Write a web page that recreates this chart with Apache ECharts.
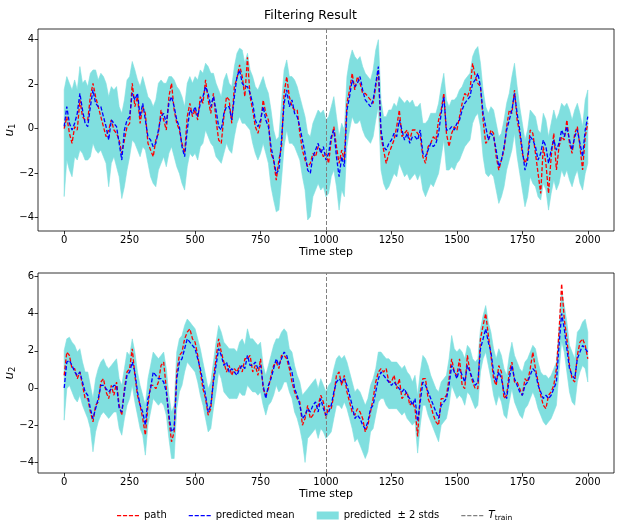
<!DOCTYPE html>
<html>
<head>
<meta charset="utf-8">
<script src="https://cdn.jsdelivr.net/npm/echarts@6/dist/echarts.min.js"></script>
<style>html,body{margin:0;padding:0;background:#fff}#c{width:621px;height:523px}</style>
</head>
<body>
<div id="c"></div>
<script>
// sampled every STEP time steps (t = 0..2000)
const STEP = 10;
const xTicks = [0, 250, 500, 750, 1000, 1250, 1500, 1750, 2000];
const y1Ticks = [-4, -2, 0, 2, 4];
const y2Ticks = [-4, -2, 0, 2, 4, 6];
const T_TRAIN = 1000;

const u1Mean = [
0.1,0.99,0.24,-0.06,0.24,0.69,1.59,0.84,0.24,0.09,
0.99,1.74,1.14,0.99,0.99,0.54,0.09,-0.51,0.39,0.24,
0.09,-0.66,-1.41,-0.06,0.39,0.54,1.59,1.29,1.59,0.54,
1.14,0.39,-0.36,-0.51,-0.81,-0.66,-0.06,0.54,0.69,0.24,
1.14,1.44,0.99,0.39,0.09,-0.81,-1.26,-0.06,0.84,0.69,
0.99,0.54,1.14,1.44,1.89,1.59,0.99,1.44,0.84,0.09,
-0.06,0.69,0.99,0.99,0.39,1.44,2.34,2.64,2.04,1.89,
1.89,1.59,1.14,0.39,0.09,0.39,0.99,0.39,0.09,-0.81,
-1.41,-2.01,-1.86,-0.51,1.14,1.74,0.99,1.29,0.69,0.54,
0.09,-0.51,-1.11,-1.86,-2.01,-1.26,-0.96,-0.66,-1.11,-0.81,
-1.41,-1.11,-0.36,-0.06,-1.26,-2.16,-1.26,-1.71,0.84,1.44,
2.19,1.89,2.04,2.34,1.74,1.29,1.14,0.99,1.29,2.04,
2.79,-0.06,-0.81,-0.96,-0.66,-0.51,-0.21,-0.36,0.39,-0.06,
-0.51,-0.21,-0.66,-0.36,-0.36,-0.51,-0.06,-1.11,-1.26,-0.96,
-0.66,-0.81,-0.66,-0.21,0.69,1.44,-0.06,-0.06,0.09,-0.06,
0.24,0.39,0.84,1.14,1.29,1.44,2.04,2.19,2.49,1.89,
0.69,0.09,-0.51,-0.21,-0.36,-0.96,-1.71,-1.41,-0.81,-0.06,
0.39,0.84,1.59,0.69,-0.06,-0.96,-1.86,-1.41,-0.36,-0.51,
-0.81,-1.41,-1.11,-0.51,-0.81,-1.56,-0.96,-0.51,-0.96,-0.66,
-0.06,-0.36,0.09,-0.51,-0.96,-0.36,-0.06,-0.66,-1.26,-0.06,
0.54];
const u1Path = [
0.0,0.54,-0.21,-0.66,0.09,-0.06,1.29,0.54,0.39,0.39,
1.44,2.04,1.44,0.99,0.54,0.09,-0.36,-0.06,0.39,-0.06,
-0.21,-0.51,-1.11,-0.51,0.09,0.24,2.04,0.99,1.44,0.24,
0.99,0.69,-0.66,-0.96,-1.26,-0.51,-0.21,0.84,0.39,-0.06,
1.44,2.04,0.84,0.24,-0.06,-0.66,-1.11,0.54,1.14,0.54,
0.84,0.39,1.44,1.14,2.19,1.29,0.69,1.59,0.39,-0.51,
-0.66,0.54,1.44,1.29,0.24,1.89,2.27,2.87,2.34,1.44,
3.21,1.44,0.84,0.09,-0.21,0.24,1.29,0.69,0.39,-1.11,
-1.41,-2.31,-1.41,-0.81,1.59,2.34,1.44,0.99,0.84,0.84,
-0.21,-0.96,-1.41,-1.71,-1.56,-1.11,-1.26,-0.81,-0.96,-1.26,
-1.11,-1.56,-0.51,0.09,-0.81,-1.56,-0.96,-1.41,1.14,1.74,
2.49,1.74,2.34,2.04,1.59,1.59,1.44,1.29,1.14,1.89,
2.64,-0.36,-0.96,-1.56,-1.11,-0.81,-0.51,0.09,0.84,-0.36,
-0.21,-0.06,-0.51,-0.06,-0.06,-0.21,-0.36,-1.26,-1.56,-0.81,
-0.66,-0.36,-0.51,0.39,0.84,1.59,-0.21,-0.81,-0.21,0.09,
-0.06,0.54,1.14,1.59,1.44,1.74,2.94,2.34,2.04,1.89,
0.39,-0.66,-0.51,-0.06,-0.21,-1.26,-1.86,-1.41,-0.96,0.09,
0.84,0.69,1.74,0.39,-0.21,-1.11,-1.56,-1.26,-0.06,-0.21,
-1.11,-2.01,-2.91,-0.81,-1.56,-2.91,-1.26,-0.21,-1.86,-0.81,
-0.36,-0.51,0.39,-0.66,-1.11,-0.21,0.09,-0.81,-1.86,-0.36,
0.24];
const u1Upper = [
1.75,2.34,2.04,1.74,2.19,1.74,2.79,2.04,2.19,1.89,
2.49,2.64,2.64,2.19,2.49,2.34,2.04,1.44,1.89,1.74,
1.89,0.99,0.69,1.29,2.19,2.34,3.02,2.64,2.19,1.89,
2.34,1.89,1.44,1.29,0.99,1.29,2.04,2.19,2.04,2.04,
2.34,2.34,2.19,1.89,1.74,1.44,0.99,2.04,2.34,2.04,
2.34,2.19,2.64,2.49,2.94,2.79,2.49,2.49,2.04,1.74,
1.44,2.19,2.49,2.04,1.89,2.79,3.39,3.62,3.54,2.94,
3.39,2.64,2.34,1.89,1.74,2.04,2.34,1.89,1.59,0.84,
-0.06,-0.51,-0.36,1.14,2.64,3.09,2.34,2.34,2.19,1.89,
1.44,0.99,0.54,-0.21,-0.36,0.24,0.54,0.84,0.69,0.84,
0.39,0.54,0.99,1.44,0.54,-0.36,0.24,-0.06,2.34,3.09,
3.54,3.24,3.09,3.24,2.79,2.49,2.34,2.19,2.64,3.54,
4.0,1.29,0.54,0.54,0.84,0.84,1.14,0.99,1.44,1.29,
1.14,1.29,1.14,1.29,0.99,0.99,1.14,0.24,0.24,0.39,
0.69,0.69,0.69,1.14,1.89,2.49,1.29,0.99,1.29,1.29,
1.44,1.74,1.89,2.19,2.34,2.49,3.24,3.54,3.69,2.94,
1.74,0.99,0.69,0.99,0.84,0.24,-0.36,-0.21,0.39,1.14,
1.59,2.34,2.94,1.89,0.99,0.24,-0.51,-0.06,0.84,0.69,
0.54,-0.06,-0.21,0.69,0.39,-0.36,0.24,0.84,0.39,0.69,
1.14,0.99,1.14,0.84,0.39,0.84,1.14,0.69,0.09,1.29,
1.74];
const u1Lower = [
-3.05,-1.41,-1.86,-2.16,-1.26,-1.41,-0.96,-1.11,-1.41,-1.41,
-1.26,-0.66,-0.96,-1.11,-0.96,-1.26,-1.56,-2.61,-1.56,-1.26,
-1.71,-2.16,-3.14,-2.61,-1.86,-1.26,-0.51,-0.66,-0.96,-1.26,
-0.81,-0.96,-1.56,-2.16,-2.46,-2.61,-1.86,-1.56,-1.26,-1.71,
-1.11,-0.81,-1.26,-1.71,-2.01,-2.46,-2.76,-1.71,-1.11,-1.26,
-1.11,-1.41,-0.81,-0.66,-0.06,-0.36,-0.66,-0.81,-1.26,-1.41,
-1.56,-1.11,-0.66,-0.96,-1.11,-0.36,0.24,0.54,0.24,0.24,
0.09,-0.06,-0.66,-1.11,-1.41,-1.11,-0.66,-1.11,-1.56,-2.61,
-3.21,-3.74,-3.66,-2.31,-0.81,-0.06,-0.66,-0.66,-0.81,-1.11,
-1.41,-2.16,-2.76,-4.1,-3.96,-3.06,-2.76,-2.46,-2.76,-2.61,
-3.06,-2.91,-2.16,-1.86,-2.61,-3.66,-2.76,-3.06,-0.81,-0.06,
0.54,0.24,0.24,0.39,-0.06,-0.36,-0.51,-0.66,-0.36,0.39,
0.99,-1.86,-2.46,-2.76,-2.61,-2.31,-2.01,-2.16,-1.56,-1.86,
-2.16,-2.01,-2.31,-2.16,-2.01,-2.31,-2.01,-2.76,-3.06,-2.76,
-2.46,-2.61,-2.31,-2.01,-1.26,-0.51,-1.86,-1.86,-1.71,-1.86,
-1.56,-1.41,-1.11,-0.81,-0.66,-0.51,0.24,0.54,0.69,0.09,
-1.26,-2.01,-2.16,-2.01,-2.16,-2.76,-3.36,-3.06,-2.61,-1.86,
-1.41,-0.96,-0.21,-1.26,-2.01,-2.76,-3.51,-3.06,-2.16,-2.46,
-2.61,-3.06,-3.21,-2.46,-2.76,-3.66,-2.91,-2.31,-2.76,-2.46,
-1.86,-2.16,-1.86,-2.31,-2.61,-2.16,-1.86,-2.46,-2.76,-2.01,
-1.56];

const u2Mean = [
0.0,1.39,1.48,1.21,0.86,0.68,0.86,0.32,-0.21,-0.39,
-1.11,-1.64,-1.11,-0.57,0.14,0.14,-0.04,-0.21,-0.04,0.14,
0.14,-1.11,-1.29,-0.21,0.68,0.86,1.39,0.86,-0.21,-0.93,
-1.29,-2.0,-0.57,-0.04,0.86,0.68,0.5,0.5,0.32,-0.21,
-1.46,-2.36,-2.18,0.5,1.39,1.57,2.11,2.64,2.46,2.29,
2.11,1.57,1.04,0.32,-0.39,-1.29,-0.93,0.32,1.21,2.11,
1.75,1.21,1.39,0.86,1.04,0.86,0.68,1.04,1.21,1.04,
1.75,1.21,1.21,1.39,1.04,1.21,0.14,-0.57,0.14,0.5,
1.04,1.57,1.21,1.57,1.93,1.75,1.21,0.86,-0.04,-0.39,
-0.93,-1.64,-1.46,-1.11,-1.29,-0.93,-0.75,-1.29,-0.57,-1.11,
-1.46,-1.29,-0.93,-0.21,0.32,0.5,0.32,0.5,0.14,-0.39,
-0.93,-1.64,-1.46,-1.64,-2.0,-2.18,-1.82,-1.11,-0.93,-0.21,
0.5,0.86,0.68,0.5,0.32,0.14,0.32,0.14,-0.04,-0.21,
-0.04,-0.39,-0.57,-0.93,-0.57,-1.8,-0.75,0.32,0.14,-0.21,
-0.57,-0.93,-1.29,-1.64,-0.93,-0.75,-0.57,0.14,1.21,0.86,
0.5,1.04,0.68,0.32,1.21,0.86,0.5,0.14,0.32,2.11,
2.64,3.18,2.46,1.93,0.86,0.32,0.86,0.5,-0.21,-0.57,
0.5,1.21,0.5,0.14,-0.21,-0.39,0.14,0.32,0.68,1.04,
0.86,0.14,-0.21,-0.57,-0.39,-0.57,-0.39,-0.04,0.32,2.29,
4.0,3.18,2.11,1.04,0.68,0.5,1.57,1.93,2.29,2.11,
1.93];
const u2Path = [
0.68,1.93,1.75,1.04,1.04,0.5,0.86,0.14,-0.57,-0.57,
-1.29,-1.82,-0.93,-0.75,0.32,0.5,-0.21,-0.57,0.14,-0.39,
0.32,-0.93,-1.46,-0.04,0.86,1.04,2.11,0.68,-0.39,-0.93,
-1.64,-2.54,-0.93,0.14,0.14,-0.04,0.32,1.21,1.39,-0.04,
-1.64,-2.89,-2.36,0.86,1.75,1.93,2.64,3.0,3.18,2.64,
2.46,1.75,0.86,-0.04,-0.57,-1.46,-1.11,0.5,1.57,2.64,
1.93,1.39,0.86,1.21,0.68,1.04,0.86,1.21,0.86,1.57,
1.57,1.75,0.86,1.21,0.68,1.57,-0.04,-0.39,-0.04,0.68,
1.21,1.39,1.04,1.75,1.75,1.57,1.04,0.32,-0.21,-0.57,
-0.75,-2.0,-1.64,-0.93,-1.64,-1.46,-1.11,-0.93,-0.39,-0.75,
-1.64,-0.93,-1.11,-0.39,0.68,0.86,0.14,0.68,-0.21,-0.75,
-1.29,-1.46,-1.11,-1.29,-1.64,-2.36,-2.0,-1.29,-0.57,0.32,
0.86,1.04,0.86,1.04,0.32,0.32,0.68,-0.04,0.5,-0.57,
-0.39,-0.21,-0.93,-0.75,-1.11,-2.6,-0.21,0.5,0.5,-0.57,
-0.93,-1.46,-1.82,-2.0,-0.57,-0.57,-0.39,0.5,1.57,0.86,
0.68,1.57,0.14,-0.04,1.75,0.86,0.32,-0.04,-0.04,2.64,
3.36,4.0,2.82,1.75,0.5,0.14,1.21,0.86,-0.57,-0.39,
0.86,1.39,0.32,0.32,-0.04,-0.39,0.5,0.32,1.04,1.93,
1.04,0.32,-0.39,-0.93,-1.11,-0.39,-0.21,0.14,1.04,3.0,
5.6,3.71,2.64,1.21,0.5,0.32,1.75,2.46,2.64,2.29,
1.57];
const u2Upper = [
2.02,2.64,2.73,2.46,2.29,1.93,2.11,1.39,0.86,0.86,
0.14,-0.57,0.5,1.04,1.39,1.57,1.21,1.04,1.21,1.39,
1.57,0.5,0.14,1.04,1.93,1.75,2.64,1.93,0.86,0.14,
-0.39,-0.93,0.5,1.21,1.93,1.75,1.57,1.75,1.93,1.04,
-0.39,-1.29,-0.93,1.93,2.64,2.82,3.36,3.71,3.54,3.36,
3.18,2.64,2.11,1.39,0.68,-0.04,0.32,1.39,2.46,3.36,
3.0,2.46,2.29,2.11,2.11,2.11,1.93,2.46,2.64,2.29,
3.18,2.64,2.64,2.46,2.29,2.46,1.21,0.68,1.21,1.75,
2.29,2.64,2.64,3.0,3.18,3.0,2.11,1.93,1.21,0.68,
0.32,-0.39,-0.21,-0.04,0.14,0.32,0.5,-0.04,0.5,0.14,
-0.21,0.14,0.32,1.04,1.57,1.75,1.57,1.75,1.39,0.86,
0.32,-0.21,-0.04,-0.21,-0.57,-0.93,-0.57,0.14,0.5,1.04,
1.93,1.93,1.75,1.57,1.57,1.39,1.39,1.39,1.21,1.04,
1.21,0.86,0.68,0.32,0.68,-0.39,0.86,1.75,1.57,1.21,
0.68,0.32,-0.04,-0.21,0.32,0.5,0.68,1.57,2.82,2.11,
1.93,2.11,1.93,1.57,2.29,2.11,1.57,1.39,1.57,3.18,
3.89,4.43,3.54,3.0,2.11,1.57,2.11,1.75,1.04,0.68,
1.75,2.46,1.75,1.39,1.04,0.86,1.39,1.57,1.93,2.29,
2.11,1.39,0.86,0.68,0.68,0.5,0.68,1.04,1.39,3.18,
5.2,4.43,3.54,2.29,1.93,1.57,3.0,3.18,3.54,3.7,
3.0];
const u2Lower = [
-1.73,-0.04,0.14,-0.21,-0.57,-0.75,-0.39,-0.93,-1.29,-1.64,
-2.18,-3.43,-2.36,-1.82,-1.46,-1.29,-1.46,-1.64,-1.46,-1.29,
-1.29,-2.18,-2.54,-1.64,-0.93,-0.57,0.14,-0.75,-1.46,-2.18,
-2.54,-3.61,-2.0,-1.29,-0.57,-0.75,-0.93,-0.75,-0.93,-1.46,
-2.71,-3.79,-3.79,-1.11,-0.21,0.14,0.86,1.39,1.21,1.04,
0.86,0.32,-0.39,-0.93,-1.64,-2.36,-2.18,-1.11,-0.21,0.86,
0.5,-0.21,-0.39,-0.57,-0.57,-0.57,-0.57,-0.21,-0.39,-0.39,
0.14,-0.04,-0.21,-0.21,-0.39,-0.21,-0.93,-1.46,-0.93,-0.75,
-0.39,0.14,-0.21,-0.04,0.32,0.32,-0.21,-0.57,-1.29,-1.64,
-2.18,-2.89,-4.0,-2.71,-2.54,-2.36,-2.18,-2.71,-2.18,-2.36,
-2.71,-2.54,-2.36,-1.64,-0.93,-0.93,-1.11,-0.75,-1.11,-1.64,
-2.18,-2.89,-2.71,-3.07,-3.43,-3.79,-3.43,-2.36,-2.18,-1.46,
-0.75,-0.57,-0.57,-0.93,-1.11,-1.11,-1.11,-1.11,-1.29,-1.46,
-1.29,-1.64,-1.82,-2.0,-1.82,-3.5,-2.0,-0.93,-0.93,-1.46,
-1.82,-2.18,-2.54,-2.89,-2.0,-1.82,-1.64,-0.93,0.14,-0.21,
-0.57,-0.39,-0.57,-0.93,-0.21,-0.39,-0.75,-1.11,-0.93,0.86,
1.57,1.93,1.21,0.5,-0.39,-0.93,-0.39,-0.75,-1.46,-1.64,
-0.75,-0.04,-0.75,-1.11,-1.46,-1.64,-1.11,-0.93,-0.57,-0.21,
-0.57,-1.11,-1.46,-1.82,-2.0,-1.82,-1.64,-1.29,-0.93,0.86,
2.5,1.93,0.86,-0.21,-0.75,-0.93,0.32,0.86,1.21,1.04,
0.32];

const BAND = '#80dfdf';
const FONT = 'DejaVu Sans';
const BAND_NAME = 'predicted  \u00b1 2 stds';

function pairs(arr){ return arr.map((v,i)=>[i*STEP, v]); }

const dashIcon = 'path://M0,0L0,0.01M0,3.4h4.2v1.4h-4.2zM6,3.4h4.2v1.4h-4.2zM12,3.4h4.2v1.4h-4.2zM18,3.4h4.2v1.4h-4.2zM22,8L22,8.01';

function bandSeries(idx, upper, lower){
  return {type:'custom', name:BAND_NAME, xAxisIndex:idx, yAxisIndex:idx,
    data:[[0, 0]], encode:{x:0, y:1}, silent:true, z:1, clip:true,
    itemStyle:{color:BAND},
    renderItem:function(params, api){
      const pts = [];
      for (let i = 0; i < upper.length; i++) pts.push(api.coord([i*STEP, upper[i]]));
      for (let i = lower.length - 1; i >= 0; i--) pts.push(api.coord([i*STEP, lower[i]]));
      return {type:'polygon', shape:{points:pts}, style:{fill:BAND, stroke:BAND, lineWidth:0.6}};
    }};
}

function panelSeries(idx, mean, path, upper, lower){
  return [
    bandSeries(idx, upper, lower),
    {type:'line', name:'path', xAxisIndex:idx, yAxisIndex:idx, data:pairs(path),
     showSymbol:false, symbol:'none', silent:true, itemStyle:{color:'#ff0000'},
     lineStyle:{color:'#ff0000', width:1.3, type:[4,2]}, z:3},
    {type:'line', name:'predicted mean', xAxisIndex:idx, yAxisIndex:idx, data:pairs(mean),
     showSymbol:false, symbol:'none', silent:true, itemStyle:{color:'#0000ff'},
     lineStyle:{color:'#0000ff', width:1.3, type:[4,2]}, z:4},
    {type:'line', name:'T_train', xAxisIndex:idx, yAxisIndex:idx, data:[],
     showSymbol:false, symbol:'none', itemStyle:{color:'#808080'},
     lineStyle:{color:'#808080', width:1, type:[4,2]}, z:5,
     markLine:{symbol:'none', silent:true, animation:false, label:{show:false},
       lineStyle:{color:'#808080', width:1, type:[4,2]},
       data:[{xAxis:T_TRAIN}]}}
  ];
}

function xAxisFor(idx){
  return {type:'value', gridIndex:idx, min:-100, max:2100, position:'bottom',
    axisLine:{show:false, onZero:false}, splitLine:{show:false},
    axisTick:{show:true, length:3.5, customValues:xTicks, lineStyle:{color:'#000', width:0.8}},
    axisLabel:{customValues:xTicks, fontSize:10, color:'#000', margin:4, fontFamily:FONT,
      formatter:(v)=>String(v)},
    name:'Time step', nameLocation:'middle', nameGap:16, nameMoveOverlap:false,
    nameTextStyle:{fontSize:11, color:'#000', fontFamily:FONT}};
}
function yAxisFor(idx, min, max, ticks, sub){
  return {type:'value', gridIndex:idx, min:min, max:max, position:'left',
    axisLine:{show:false, onZero:false}, splitLine:{show:false},
    axisTick:{show:true, length:3.5, customValues:ticks, lineStyle:{color:'#000', width:0.8}},
    axisLabel:{customValues:ticks, fontSize:10, color:'#000', margin:4, fontFamily:FONT,
      formatter:(v)=> (v<0 ? '\u2212'+Math.abs(v) : String(v))},
    name:'{i|u}{s|'+sub+'}', nameLocation:'middle', nameRotate:90, nameGap:21, nameMoveOverlap:false,
    nameTextStyle:{color:'#000', fontFamily:FONT,
      rich:{i:{fontSize:12, fontStyle:'italic', fontFamily:FONT, color:'#000', lineHeight:14, verticalAlign:'middle'},
            s:{fontSize:8.5, fontFamily:FONT, color:'#000', lineHeight:14, verticalAlign:'bottom', padding:[6,0,0,0]}}}};
}

const chart = echarts.init(document.getElementById('c'), null, {renderer:'canvas'});
chart.setOption({
  animation:false,
  backgroundColor:'#fff',
  textStyle:{fontFamily:FONT},
  title:{text:'Filtering Result', left:'center', top:4,
    textStyle:{fontSize:12.5, fontWeight:'normal', color:'#000', fontFamily:FONT}},
  grid:[
    {left:38, right:7, top:29, height:202, show:true, borderColor:'#000', borderWidth:0.8, backgroundColor:'transparent', outerBoundsMode:'none', containLabel:false},
    {left:38, right:7, top:273, height:200, show:true, borderColor:'#000', borderWidth:0.8, backgroundColor:'transparent', outerBoundsMode:'none', containLabel:false}
  ],
  xAxis:[xAxisFor(0), xAxisFor(1)],
  yAxis:[yAxisFor(0, -4.6, 4.48, y1Ticks, '1'), yAxisFor(1, -4.57, 6.18, y2Ticks, '2')],
  legend:{left:112, top:505, itemWidth:22, itemHeight:8, itemGap:22, selectedMode:false,
    textStyle:{fontSize:10, color:'#000', fontFamily:FONT,
      rich:{i:{fontSize:10.5, fontStyle:'italic', fontFamily:FONT, color:'#000'},
            s:{fontSize:7.5, fontFamily:FONT, color:'#000', verticalAlign:'bottom', padding:[5,0,0,0]}}},
    formatter:(n)=> n==='T_train' ? '{i|T}{s|train}' : n,
    data:[
      {name:'path', icon:dashIcon, itemStyle:{color:'#ff0000'}, lineStyle:{width:0}},
      {name:'predicted mean', icon:dashIcon, itemStyle:{color:'#0000ff'}, lineStyle:{width:0}},
      {name:BAND_NAME, icon:'rect', itemStyle:{color:BAND}, lineStyle:{width:0}},
      {name:'T_train', icon:dashIcon, itemStyle:{color:'#808080'}, lineStyle:{width:0}}
    ]},
  series:[].concat(
    panelSeries(0, u1Mean, u1Path, u1Upper, u1Lower),
    panelSeries(1, u2Mean, u2Path, u2Upper, u2Lower)
  )
});
</script>
</body>
</html>
